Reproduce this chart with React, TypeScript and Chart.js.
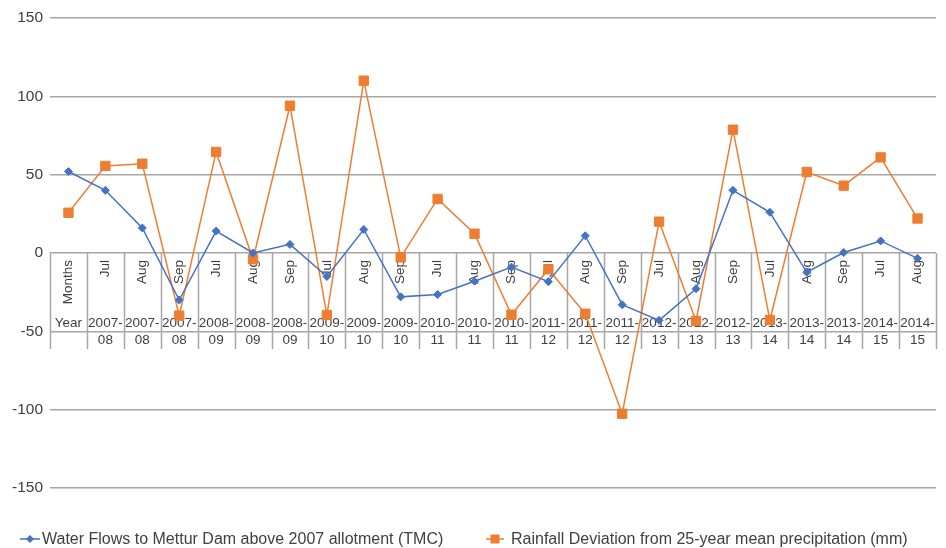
import React, { useEffect, useRef } from 'react';
import { Chart, registerables } from 'chart.js';

Chart.register(...registerables);

const months = ['Months', 'Jul', 'Aug', 'Sep', 'Jul', 'Aug', 'Sep', 'Jul', 'Aug', 'Sep', 'Jul', 'Aug', 'Sep', 'Jul', 'Aug', 'Sep', 'Jul', 'Aug', 'Sep', 'Jul', 'Aug', 'Sep', 'Jul', 'Aug'];
const yearTop = ['Year', '2007-', '2007-', '2007-', '2008-', '2008-', '2008-', '2009-', '2009-', '2009-', '2010-', '2010-', '2010-', '2011-', '2011-', '2011-', '2012-', '2012-', '2012-', '2013-', '2013-', '2013-', '2014-', '2014-'];
const yearBottom = ['', '08', '08', '08', '09', '09', '09', '10', '10', '10', '11', '11', '11', '12', '12', '12', '13', '13', '13', '14', '14', '14', '15', '15'];

const waterFlows = [52, 40, 16, -30, 14, 0, 5.5, -15, 15, -28, -26.5, -18, -9, -18.3, 11, -33, -43, -22.8, 40, 26, -12.3, 0.3, 7.7, -3.4];
const rainfall = [25.7, 55.6, 57, -40, 64.5, -4, 94, -39.6, 110, -2.8, 34.5, 12.3, -39.4, -10.4, -38.8, -102.6, 20, -43.4, 78.7, -42.8, 51.7, 43, 61, 22];

const yMin = -150;
const yMax = 150;
const yStep = 50;

const seriesNames = [
  'Water Flows to Mettur Dam above 2007 allotment (TMC)',
  'Rainfall Deviation from 25-year mean precipitation (mm)',
];

const BLUE = '#4472C4';
const ORANGE = '#ED7D31';
const GRID = '#a6a6a6';
const TEXT = '#404040';
const FAMILY = '"Liberation Sans", Arial, sans-serif';
const CAT_FONT = '13.5px ' + FAMILY;
const LEGEND_FONT = '16px ' + FAMILY;

const tablePlugin = {
  id: 'catTable',
  beforeDatasetsDraw(chart: any) {
    const { ctx, scales } = chart;
    const x = scales.x;
    const y = scales.y;
    const y0 = y.getPixelForValue(0);
    const n = months.length;
    const half = (x.getPixelForValue(1) - x.getPixelForValue(0)) / 2;
    ctx.save();
    ctx.strokeStyle = GRID;
    ctx.lineWidth = 1.5;
    for (let i = 0; i <= n; i++) {
      const bx = i < n ? x.getPixelForValue(i) - half : x.getPixelForValue(n - 1) + half;
      ctx.beginPath();
      ctx.moveTo(Math.round(bx) + 0.5, y0);
      ctx.lineTo(Math.round(bx) + 0.5, y0 + 96);
      ctx.stroke();
    }
    ctx.fillStyle = TEXT;
    ctx.font = CAT_FONT;
    for (let i = 0; i < n; i++) {
      const cx = x.getPixelForValue(i);
      ctx.save();
      ctx.translate(cx, y0 + 7);
      ctx.rotate(-Math.PI / 2);
      ctx.textAlign = 'right';
      ctx.textBaseline = 'middle';
      ctx.fillText(months[i], 0, 0);
      ctx.restore();
      ctx.textAlign = 'center';
      ctx.textBaseline = 'middle';
      ctx.fillText(yearTop[i], cx, y0 + 70);
      if (yearBottom[i]) ctx.fillText(yearBottom[i], cx, y0 + 87);
    }
    ctx.restore();
  },
  afterDraw(chart: any) {
    const { ctx } = chart;
    const ly = 539;
    ctx.save();
    ctx.font = LEGEND_FONT;
    ctx.textBaseline = 'middle';
    ctx.textAlign = 'left';
    ctx.strokeStyle = BLUE;
    ctx.lineWidth = 1.5;
    ctx.beginPath();
    ctx.moveTo(20, ly);
    ctx.lineTo(40, ly);
    ctx.stroke();
    ctx.fillStyle = BLUE;
    ctx.beginPath();
    ctx.moveTo(26, ly);
    ctx.lineTo(30, ly - 4);
    ctx.lineTo(34, ly);
    ctx.lineTo(30, ly + 4);
    ctx.closePath();
    ctx.fill();
    ctx.fillStyle = TEXT;
    ctx.fillText(seriesNames[0], 42, ly + 1);
    ctx.strokeStyle = ORANGE;
    ctx.beginPath();
    ctx.moveTo(486, ly);
    ctx.lineTo(504, ly);
    ctx.stroke();
    ctx.fillStyle = ORANGE;
    ctx.fillRect(490.5, ly - 4.5, 9, 9);
    ctx.fillStyle = TEXT;
    ctx.fillText(seriesNames[1], 511, ly + 1);
    ctx.restore();
  },
};

export default function App() {
  const ref = useRef<HTMLCanvasElement>(null);
  useEffect(() => {
    document.body.style.margin = '0';
    if (!ref.current) return;
    const chart = new Chart(ref.current, {
      type: 'line',
      data: {
        labels: months,
        datasets: [
          {
            label: seriesNames[0],
            data: waterFlows,
            borderColor: BLUE,
            backgroundColor: BLUE,
            borderWidth: 1.5,
            pointStyle: 'rectRot',
            pointRadius: 4,
            pointBorderWidth: 1,
            tension: 0,
          },
          {
            label: seriesNames[1],
            data: rainfall,
            borderColor: ORANGE,
            backgroundColor: ORANGE,
            borderWidth: 1.5,
            pointStyle: 'rect',
            pointRadius: 6.6,
            pointBorderWidth: 1,
            tension: 0,
          },
        ],
      },
      options: {
        responsive: false,
        animation: false,
        layout: { padding: { top: 18, right: 10, bottom: 60, left: 0 } },
        plugins: { legend: { display: false }, tooltip: { enabled: false } },
        scales: {
          x: { type: 'category', display: false, offset: true },
          y: {
            min: yMin,
            max: yMax,
            afterFit(scale: any) {
              scale.width = 50;
            },
            ticks: {
              stepSize: yStep,
              padding: 7,
              color: TEXT,
              font: { family: FAMILY, size: 15.5 },
            },
            grid: { color: GRID, lineWidth: 1.5, drawTicks: false },
            border: { display: false },
          },
        },
      },
      plugins: [tablePlugin],
    });
    return () => chart.destroy();
  }, []);
  return (
    <div style={{ width: 946, height: 548 }}>
      <canvas ref={ref} width={946} height={548} />
    </div>
  );
}
